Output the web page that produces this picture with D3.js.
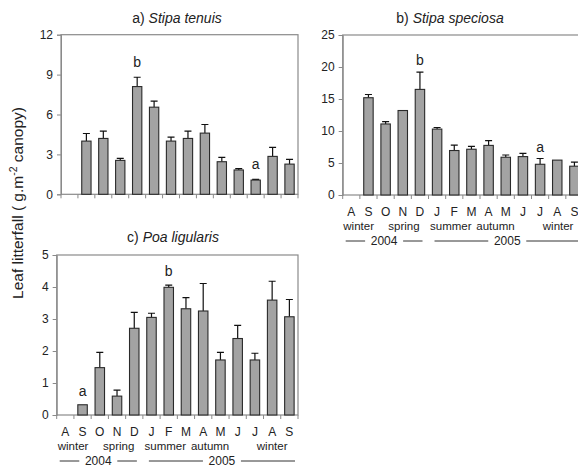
<!DOCTYPE html>
<html>
<head>
<meta charset="utf-8">
<script src="https://cdn.jsdelivr.net/npm/d3@7"></script>
<style>
    body { margin: 0; background: #fff; }
    text { font-family: "Liberation Sans", Arial, sans-serif; fill: #222; }
</style>
</head>
<body>
<div class="chart"></div>
<script>
// months Aug 2004 .. Sep 2005
var months = ["A", "S", "O", "N", "D", "J", "F", "M", "A", "M", "J", "J", "A", "S"];
var seasons = ["winter", "spring", "summer", "autumn", "winter"];
var years = ["2004", "2005"];

// a) Stipa tenuis  (null = no sample)
var tenuisMean = [null, 4.0, 4.2, 2.55, 8.1, 6.55, 4.0, 4.2, 4.6, 2.45, 1.83, 1.07, 2.85, 2.27];
var tenuisErr  = [null, 0.57, 0.55, 0.15, 0.7, 0.45, 0.3, 0.55, 0.65, 0.32, 0.1, 0.05, 0.68, 0.35];
var tenuisTicks = [0, 3, 6, 9, 12];
var tenuisLetters = [{ i: 4, t: "b" }, { i: 11, t: "a" }];

// b) Stipa speciosa
var speciosaMean = [null, 15.2, 11.1, 13.2, 16.5, 10.3, 6.95, 7.15, 7.75, 5.9, 6.0, 4.8, 5.45, 4.5];
var speciosaErr  = [null, 0.5, 0.35, 0, 2.7, 0.25, 0.85, 0.45, 0.75, 0.35, 0.5, 0.9, 0, 0.65];
var speciosaTicks = [0, 5, 10, 15, 20, 25];
var speciosaLetters = [{ i: 4, t: "b" }, { i: 11, t: "a" }];

// c) Poa ligularis
var poaMean = [null, 0.32, 1.48, 0.59, 2.71, 3.05, 3.99, 3.32, 3.25, 1.72, 2.39, 1.72, 3.59, 3.07];
var poaErr  = [null, 0, 0.48, 0.19, 0.5, 0.13, 0.07, 0.35, 0.86, 0.24, 0.41, 0.21, 0.59, 0.54];
var poaTicks = [0, 1, 2, 3, 4, 5];
var poaLetters = [{ i: 1, t: "a" }, { i: 6, t: "b" }];

var W = 578, H = 467;

var svg = d3.select(".chart").append("svg")
    .attr("width", W)
    .attr("height", H);

svg.append("rect").attr("width", W).attr("height", H).attr("fill", "#fff");

function panel(opt) {
    var x = d3.scaleBand()
        .domain(d3.range(months.length))
        .range([opt.left, opt.right])
        .paddingInner(0.45)
        .paddingOuter(0.225);
    var step = x.step();
    var bandStart = function (i) { return opt.left + i * (opt.right - opt.left) / months.length; };

    var y = d3.scaleLinear()
        .domain([0, d3.max(opt.ticks)])
        .range([opt.bottom, opt.top]);

    var g = svg.append("g");

    // frame
    g.append("rect")
        .attr("x", opt.left)
        .attr("y", opt.top)
        .attr("width", opt.right - opt.left)
        .attr("height", opt.bottom - opt.top)
        .attr("fill", "none")
        .attr("stroke", "#8a8a8a")
        .attr("stroke-width", 1.2);

    // y axis
    var yAxis = d3.axisLeft(y)
        .tickValues(opt.ticks)
        .tickFormat(d3.format("d"))
        .tickSize(4)
        .tickPadding(4);
    var ya = g.append("g")
        .attr("transform", "translate(" + opt.left + ",0)")
        .call(yAxis);
    ya.select(".domain").attr("stroke", "#8a8a8a");
    ya.selectAll(".tick line").attr("stroke", "#8a8a8a");
    ya.selectAll(".tick text")
        .style("font-size", "12px")
        .style("font-family", "'Liberation Sans', Arial, sans-serif")
        .attr("fill", "#222");

    // x ticks at band boundaries
    g.selectAll(".xtick")
        .data(d3.range(months.length + 1))
        .enter().append("line")
        .attr("x1", function (d) { return bandStart(d); })
        .attr("x2", function (d) { return bandStart(d); })
        .attr("y1", opt.bottom)
        .attr("y2", opt.bottom + 4)
        .attr("stroke", "#8a8a8a");

    var idx = d3.range(months.length).filter(function (i) { return opt.mean[i] != null; });

    // error bars (upper only)
    g.selectAll(".err")
        .data(idx.filter(function (i) { return opt.err[i] > 0; }))
        .enter().append("path")
        .attr("d", function (i) {
            var cx = x(i) + x.bandwidth() / 2;
            var y0 = y(opt.mean[i]), y1 = y(opt.mean[i] + opt.err[i]);
            return "M" + cx + "," + y0 + "V" + y1 + "M" + (cx - 3.5) + "," + y1 + "H" + (cx + 3.5);
        })
        .attr("fill", "none")
        .attr("stroke", "#111")
        .attr("stroke-width", 1.2);

    g.selectAll(".bar")
        .data(idx)
        .enter().append("rect")
        .attr("x", function (i) { return x(i); })
        .attr("y", function (i) { return y(opt.mean[i]); })
        .attr("width", x.bandwidth())
        .attr("height", function (i) { return opt.bottom - y(opt.mean[i]); })
        .attr("fill", "#a3a3a3")
        .attr("stroke", "#2a2a2a")
        .attr("stroke-width", 1.1);

    // significance letters
    g.selectAll(".sig")
        .data(opt.letters)
        .enter().append("text")
        .attr("x", function (d) { return x(d.i) + x.bandwidth() / 2; })
        .attr("y", function (d) { return y(opt.mean[d.i] + opt.err[d.i]) - opt.letterGap; })
        .attr("text-anchor", "middle")
        .style("font-size", "14px")
        .text(function (d) { return d.t; });

    // title
    var t = g.append("text")
        .attr("x", opt.titleX)
        .attr("y", opt.titleY)
        .attr("text-anchor", "middle")
        .style("font-size", "14px");
    t.append("tspan").text(opt.titlePre + " ");
    t.append("tspan").style("font-style", "italic").text(opt.titleName);

    if (opt.showX) {
        g.selectAll(".mon")
            .data(months)
            .enter().append("text")
            .attr("x", function (d, i) { return x(i) + x.bandwidth() / 2; })
            .attr("y", opt.bottom + 21)
            .attr("text-anchor", "middle")
            .style("font-size", "12px")
            .text(function (d) { return d; });

        g.selectAll(".sea")
            .data(seasons)
            .enter().append("text")
            .attr("x", function (d, i) { return bandStart(0) + opt.seasonPos[i] * step; })
            .attr("y", opt.bottom + 35)
            .attr("text-anchor", "middle")
            .style("font-size", "11.5px")
            .text(function (d) { return d; });

        // year spans: 2004 = A..D, 2005 = J..S
        var spans = [
            { t: years[0], a: bandStart(0) + 3, b: bandStart(5) - 6 },
            { t: years[1], a: bandStart(5) + 6, b: bandStart(14) - 3 }
        ];
        spans.forEach(function (s) {
            var mid = (s.a + s.b) / 2;
            var yy = opt.bottom + 50;
            g.append("text")
                .attr("x", mid)
                .attr("y", yy)
                .attr("text-anchor", "middle")
                .style("font-size", "12px")
                .text(s.t);
            g.append("line")
                .attr("x1", s.a).attr("x2", mid - 19)
                .attr("y1", yy - 4).attr("y2", yy - 4)
                .attr("stroke", "#333");
            g.append("line")
                .attr("x1", mid + 19).attr("x2", s.b)
                .attr("y1", yy - 4).attr("y2", yy - 4)
                .attr("stroke", "#333");
        });
    }
}

panel({
    left: 61, right: 298, top: 34.7, bottom: 194.3,
    ticks: tenuisTicks, mean: tenuisMean, err: tenuisErr, letters: tenuisLetters,
    letterGap: 10, titleX: 177, titleY: 23, titlePre: "a)", titleName: "Stipa tenuis",
    showX: false
});

panel({
    left: 342.7, right: 583, top: 35, bottom: 195,
    ticks: speciosaTicks, mean: speciosaMean, err: speciosaErr, letters: speciosaLetters,
    letterGap: 7, titleX: 450, titleY: 23, titlePre: "b)", titleName: "Stipa speciosa",
    showX: true, seasonPos: [0.93, 3.57, 6.3, 8.9, 12.55]
});

panel({
    left: 56.7, right: 298, top: 255, bottom: 415,
    ticks: poaTicks, mean: poaMean, err: poaErr, letters: poaLetters,
    letterGap: 9, titleX: 173, titleY: 242, titlePre: "c)", titleName: "Poa ligularis",
    showX: true, seasonPos: [0.95, 3.6, 6.3, 8.9, 12.5]
});

// shared y label
var yl = svg.append("text")
    .attr("transform", "translate(23,203) rotate(-90)")
    .attr("text-anchor", "middle")
    .style("font-size", "15.5px");
yl.append("tspan").text("Leaf litterfall ( g.m");
yl.append("tspan").attr("dy", -6).style("font-size", "10.5px").text("-2");
yl.append("tspan").attr("dy", 6).text(" canopy)");
</script>
</body>
</html>
